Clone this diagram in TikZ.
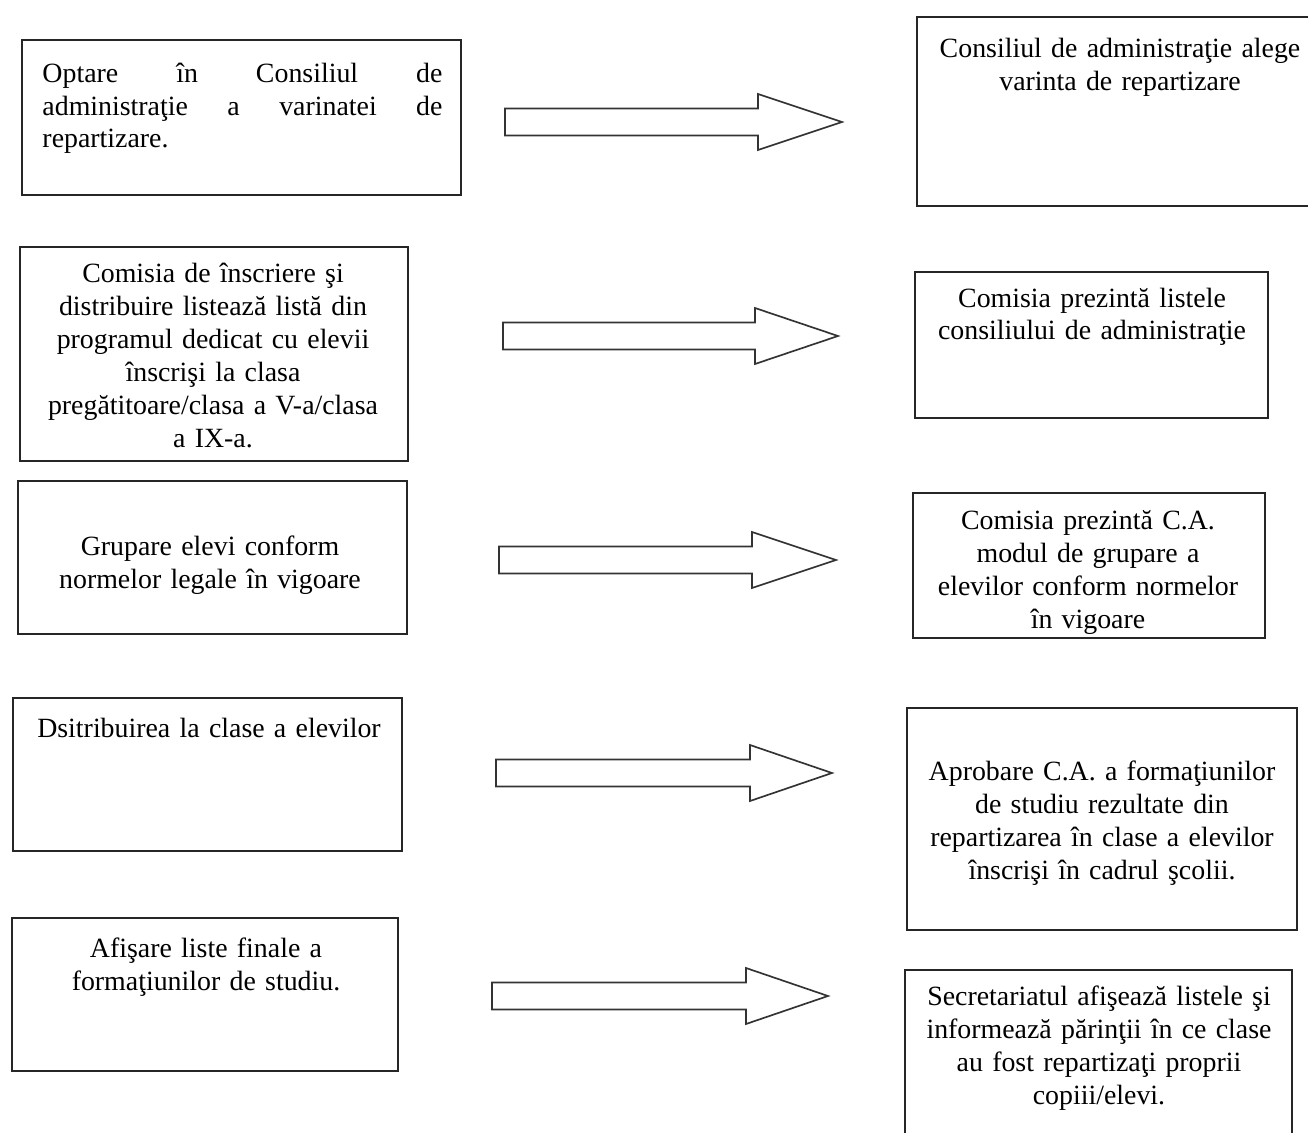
\documentclass[tikz,border=0pt]{standalone}
\usepackage{fontspec}
\setmainfont{Liberation Serif}
\usetikzlibrary{fit}
\hyphenpenalty=10000
\exhyphenpenalty=10000
\newcommand\blockarr[4]{%
  \draw[blockarrow] (#1,{#2-13.5}) -- (#3,{#2-13.5}) -- (#3,{#2-28}) -- (#4,#2)
    -- (#3,{#2+28}) -- (#3,{#2+13.5}) -- (#1,{#2+13.5}) -- cycle;}
\begin{document}
\begin{tikzpicture}[x=0.42pt,y=-0.42pt,
  box/.style={draw=black!85, line width=0.8pt, inner sep=0pt},
  txt/.style={inner sep=0pt, anchor=base, align=center, text width=#1,
    font=\fontsize{11.7pt}{13.86pt}\selectfont},
  blockarrow/.style={draw=black!80, line width=0.7pt, line join=miter}]
\useasboundingbox (0,0) rectangle (1308,1133);
\clip (0,0) rectangle (1308,1133);

% boxes
\node[box, fit={(22,40) (461,195)}] (L1) {};
\node[box, fit={(917,17) (1320,206)}] (R1) {};
\node[box, fit={(20,247) (408,461)}] (L2) {};
\node[box, fit={(915,272) (1268,418)}] (R2) {};
\node[box, fit={(18,481) (407,634)}] (L3) {};
\node[box, fit={(913,493) (1265,638)}] (R3) {};
\node[box, fit={(13,698) (402,851)}] (L4) {};
\node[box, fit={(907,708) (1297,930)}] (R4) {};
\node[box, fit={(12,918) (398,1071)}] (L5) {};
\node[box, fit={(905,970) (1292,1145)}] (R5) {};

% texts
\node[txt=168pt, align=justify, anchor=base west] (L1t) at (42,82)
  {Optare în Consiliul de\linebreak administraţie a varinatei de\linebreak repartizare.};
\node[txt=220pt] (R1t) at (1120,57)
  {Consiliul de administraţie alege\\varinta de repartizare};
\node[txt=200pt] (L2t) at (213,282)
  {Comisia de înscriere şi\\distribuire listează listă din\\programul dedicat cu elevii\\înscrişi la clasa\\pregătitoare/clasa a V-a/clasa\\a IX-a.};
\node[txt=200pt] (R2t) at (1092,307)
  {Comisia prezintă listele\\consiliului de administraţie};
\node[txt=200pt] (L3t) at (210,555)
  {Grupare elevi conform\\normelor legale în vigoare};
\node[txt=200pt] (R3t) at (1088,529)
  {Comisia prezintă C.A.\\modul de grupare a\\elevilor conform normelor\\în vigoare};
\node[txt=200pt] (L4t) at (209,737)
  {Dsitribuirea la clase a elevilor};
\node[txt=200pt] (R4t) at (1102,780)
  {Aprobare C.A. a formaţiunilor\\de studiu rezultate din\\repartizarea în clase a elevilor\\înscrişi în cadrul şcolii.};
\node[txt=200pt] (L5t) at (206,957)
  {Afişare liste finale a\\formaţiunilor de studiu.};
\node[txt=200pt] (R5t) at (1099,1005)
  {Secretariatul afişează listele şi\\informează părinţii în ce clase\\au fost repartizaţi proprii\\copiii/elevi.};

% block arrows
\blockarr{505}{122}{758}{842}
\blockarr{503}{336}{755}{838}
\blockarr{499}{560}{752}{836}
\blockarr{496}{773}{750}{832}
\blockarr{492}{996}{746}{828}
\end{tikzpicture}
\end{document}
